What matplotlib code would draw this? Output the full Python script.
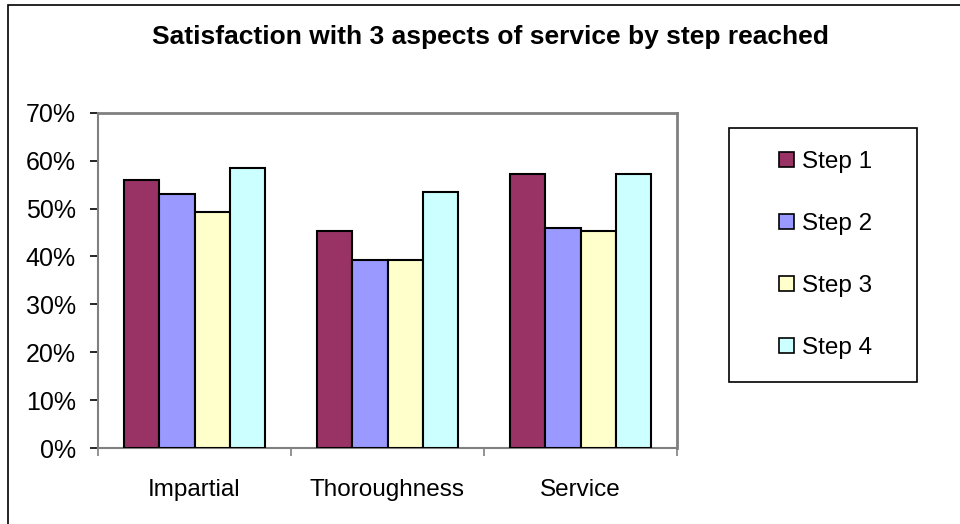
import numpy as np
import matplotlib
matplotlib.use('Agg')
import matplotlib.pyplot as plt
from matplotlib.patches import Rectangle, Patch
from matplotlib.ticker import PercentFormatter

plt.rcParams['font.family'] = ['Liberation Sans', 'DejaVu Sans']

# Data
categories = ['Impartial', 'Thoroughness', 'Service']
steps = ['Step 1', 'Step 2', 'Step 3', 'Step 4']
step1 = [55.9, 45.4, 57.1]
step2 = [53.0, 39.2, 45.9]
step3 = [49.2, 39.2, 45.4]
step4 = [58.4, 53.4, 57.1]
colors = ['#993366', '#9999FF', '#FFFFCC', '#CCFFFF']

W, H = 960, 524
fig = plt.figure(figsize=(W / 100, H / 100), dpi=100)
fig.patch.set_facecolor('white')

# outer chart border (only left/top visible in the original)
fig.patches.append(Rectangle((8 / W, -0.05), 1.2, 1 - 5 / H + 0.05, transform=fig.transFigure,
                             fill=False, edgecolor='black', linewidth=1.2))

ax = fig.add_axes([98 / W, 1 - 448 / H, (677 - 98) / W, (448 - 112.7) / H])

x = np.arange(len(categories))
width = 1 / 5.5
series = [step1, step2, step3, step4]
for i, vals in enumerate(series):
    ax.bar(x + (i - 1.5) * width, vals, width, color=colors[i], edgecolor='black',
           linewidth=1.5, label=steps[i], zorder=3)

ax.set_xlim(-0.5, 2.5)
ax.set_ylim(0, 70)
ax.set_yticks(range(0, 71, 10))
ax.yaxis.set_major_formatter(PercentFormatter(decimals=0))
ax.set_xticks(x)
ax.set_xticklabels(categories)
ax.set_xticks([-0.5, 0.5, 1.5, 2.5], minor=True)
ax.tick_params(axis='x', which='major', length=0, pad=22, labelsize=17.5)
ax.tick_params(axis='x', which='minor', length=6, width=1.2, color='#808080', direction='out')
ax.tick_params(axis='y', length=6, width=1.2, color='black', pad=10, labelsize=18)

for side in ['top', 'right']:
    ax.spines[side].set_color('#808080')
    ax.spines[side].set_linewidth(2)
ax.spines['left'].set_color('#808080')
ax.spines['left'].set_linewidth(1.5)
ax.spines['bottom'].set_color('#808080')
ax.spines['bottom'].set_linewidth(1.5)

fig.text(490 / W, 1 - 37 / H, 'Satisfaction with 3 aspects of service by step reached',
         ha='center', va='center', fontsize=19, fontweight='bold')

# legend box
fig.patches.append(Rectangle((729 / W, 1 - 382 / H), (917 - 729) / W, (382 - 128) / H,
                             transform=fig.transFigure, fill=False, edgecolor='black', linewidth=1.2))
handles = [Patch(facecolor=colors[i], edgecolor='black', linewidth=1.2) for i in range(4)]
fig.legend(handles, steps, loc='center', bbox_to_anchor=(826 / W, 1 - 255 / H), frameon=False,
           fontsize=17.5, handlelength=0.6, handleheight=0.6, handletextpad=0.35, labelspacing=1.65)

fig.savefig('out.png', dpi=100)
